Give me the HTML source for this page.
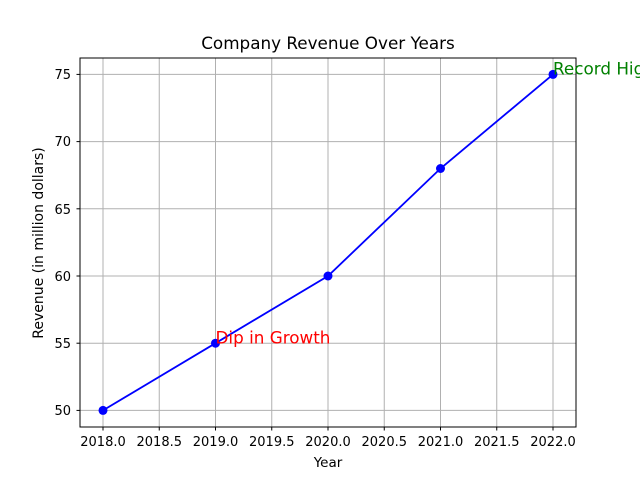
<!DOCTYPE html>
<html><head><meta charset="utf-8"><style>html,body{margin:0;padding:0;background:#fff;overflow:hidden}</style></head>
<body>
<svg width="640" height="480" xmlns="http://www.w3.org/2000/svg" font-family="'DejaVu Sans', 'Liberation Sans', sans-serif">
<rect width="640" height="480" fill="#fff"/>
<g stroke="#b0b0b0" stroke-width="1">
<line x1="103" y1="58" x2="103" y2="427"/><line x1="159.25" y1="58" x2="159.25" y2="427"/>
<line x1="215.5" y1="58" x2="215.5" y2="427"/><line x1="271.75" y1="58" x2="271.75" y2="427"/>
<line x1="328" y1="58" x2="328" y2="427"/><line x1="384.25" y1="58" x2="384.25" y2="427"/>
<line x1="440.5" y1="58" x2="440.5" y2="427"/><line x1="496.75" y1="58" x2="496.75" y2="427"/>
<line x1="553" y1="58" x2="553" y2="427"/>
<line x1="80" y1="410.4" x2="576" y2="410.4"/><line x1="80" y1="343.2" x2="576" y2="343.2"/>
<line x1="80" y1="276" x2="576" y2="276"/><line x1="80" y1="208.8" x2="576" y2="208.8"/>
<line x1="80" y1="141.6" x2="576" y2="141.6"/><line x1="80" y1="74.4" x2="576" y2="74.4"/>
</g>
<polyline points="103,410.4 215.5,343.2 328,276 440.5,168.5 553,74.4" fill="none" stroke="#0000ff" stroke-width="1.8"/>
<g fill="#0000ff"><circle cx="103" cy="410.4" r="4.5"/><circle cx="215.5" cy="343.2" r="4.5"/><circle cx="328" cy="276" r="4.5"/><circle cx="440.5" cy="168.5" r="4.5"/><circle cx="553" cy="74.4" r="4.5"/></g>
<rect x="80" y="58" width="496" height="369" fill="none" stroke="#000" stroke-width="1"/>
<g stroke="#000" stroke-width="1">
<line x1="103" y1="427" x2="103" y2="430.5"/><line x1="159.25" y1="427" x2="159.25" y2="430.5"/>
<line x1="215.5" y1="427" x2="215.5" y2="430.5"/><line x1="271.75" y1="427" x2="271.75" y2="430.5"/>
<line x1="328" y1="427" x2="328" y2="430.5"/><line x1="384.25" y1="427" x2="384.25" y2="430.5"/>
<line x1="440.5" y1="427" x2="440.5" y2="430.5"/><line x1="496.75" y1="427" x2="496.75" y2="430.5"/>
<line x1="553" y1="427" x2="553" y2="430.5"/>
<line x1="76.5" y1="410.4" x2="80" y2="410.4"/><line x1="76.5" y1="343.2" x2="80" y2="343.2"/>
<line x1="76.5" y1="276" x2="80" y2="276"/><line x1="76.5" y1="208.8" x2="80" y2="208.8"/>
<line x1="76.5" y1="141.6" x2="80" y2="141.6"/><line x1="76.5" y1="74.4" x2="80" y2="74.4"/>
</g>
<g font-size="13" fill="#000" text-anchor="middle">
<text x="103" y="446">2018.0</text><text x="159.25" y="446">2018.5</text><text x="215.5" y="446">2019.0</text>
<text x="271.75" y="446">2019.5</text><text x="328" y="446">2020.0</text><text x="384.25" y="446">2020.5</text>
<text x="440.5" y="446">2021.0</text><text x="496.75" y="446">2021.5</text><text x="553" y="446">2022.0</text>
</g>
<g font-size="13" fill="#000" text-anchor="end">
<text x="71" y="415">50</text><text x="71" y="348">55</text><text x="71" y="281">60</text>
<text x="71" y="214">65</text><text x="71" y="146">70</text><text x="71" y="79">75</text>
</g>
<text x="328" y="49" font-size="16.8" text-anchor="middle">Company Revenue Over Years</text>
<text x="328" y="467" font-size="13.5" text-anchor="middle">Year</text>
<text transform="translate(43,243) rotate(-90)" font-size="14" text-anchor="middle">Revenue (in million dollars)</text>
<text x="215.5" y="343.5" font-size="16.8" fill="#ff0000">Dip in Growth</text>
<text x="553" y="74.5" font-size="16.8" fill="#008000">Record High</text>
</svg>
</body></html>
